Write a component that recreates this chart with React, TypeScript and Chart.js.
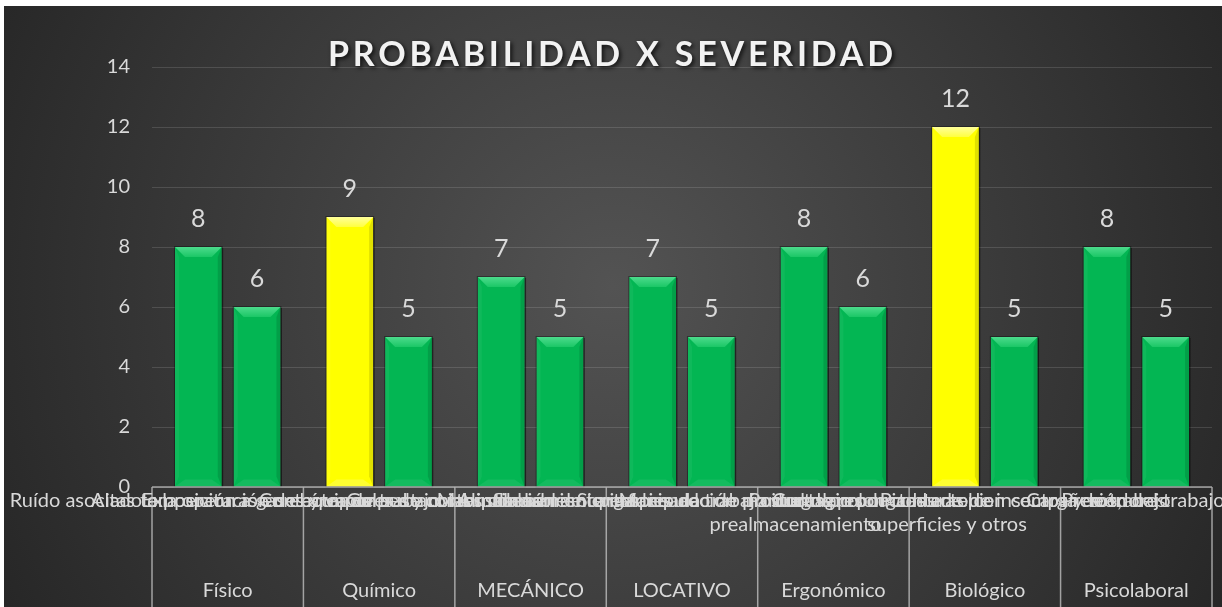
import React, { useEffect, useRef } from "react";
import { Chart, registerables } from "chart.js";

Chart.register(...registerables);

const chartTitle = "PROBABILIDAD X SEVERIDAD";
const groups = ["Físico", "Químico", "MECÁNICO", "LOCATIVO", "Ergonómico", "Biológico", "Psicolaboral"];
const subLabels: (string | string[])[] = [
  "Ruído asociado a la operación de equipos",
  "Altas temperaturas en el área de trabajo",
  "Exposición a gases y vapores de combustibles",
  "Contacto con sustancias inflamables",
  "Golpes y cortes con herramientas",
  "Manipulación de carga pesada",
  "Almacenamiento inadecuado de productos",
  "Superficies de trabajo irregulares",
  ["Manipulación manual de productos en el", "prealmacenamiento"],
  "Posturas prolongadas de pie",
  ["Contagio por contacto con compañeros,", "superficies y otros"],
  "Picaduras de insectos y roedores",
  "Carga de trabajo",
  "Presión del trabajo, el jefe",
];
const values = [8, 6, 9, 5, 7, 5, 7, 5, 8, 6, 12, 5, 8, 5];
const GREEN = "#03B653";
const YELLOW = "#FFFF00";
const barColors = [GREEN, GREEN, YELLOW, GREEN, GREEN, GREEN, GREEN, GREEN, GREEN, GREEN, YELLOW, GREEN, GREEN, GREEN];
const yMin = 0;
const yMax = 14;
const yStep = 2;

const FONT = "Lato, 'Open Sans', sans-serif";
const TEXT = "#d9d9d9";

const bgPlugin = {
  id: "bg",
  beforeDraw(chart: any) {
    const { ctx, width, height } = chart;
    ctx.save();
    const g = ctx.createRadialGradient(width / 2, height / 2 - 20, 0, width / 2, height / 2 - 20, 700);
    g.addColorStop(0, "#535353");
    g.addColorStop(1, "#262626");
    ctx.fillStyle = g;
    ctx.fillRect(0, 0, width, height);
    ctx.restore();
  },
};

const bevelPlugin = {
  id: "bevel",
  afterDatasetsDraw(chart: any) {
    const ctx = chart.ctx;
    chart.data.datasets.forEach((ds: any, di: number) => {
      const meta = chart.getDatasetMeta(di);
      meta.data.forEach((el: any, i: number) => {
        const v = ds.data[i];
        if (v == null) return;
        const { x, y, base, width } = el.getProps(["x", "y", "base", "width"], true);
        const l = x - width / 2;
        const r = x + width / 2;
        const t = y;
        const b = base;
        const bv = 10;
        const yellow = barColors[i] === YELLOW;
        ctx.save();
        // top bevel
        ctx.beginPath();
        ctx.moveTo(l, t);
        ctx.lineTo(r, t);
        ctx.lineTo(r - bv, t + bv);
        ctx.lineTo(l + bv, t + bv);
        ctx.closePath();
        const tg = ctx.createLinearGradient(0, t, 0, t + bv);
        tg.addColorStop(0, yellow ? "#FFFF9A" : "#4CDB8C");
        tg.addColorStop(1, yellow ? "#FFFF40" : "#1BC766");
        ctx.fillStyle = tg;
        ctx.fill();
        // right bevel
        ctx.beginPath();
        ctx.moveTo(r, t);
        ctx.lineTo(r - 4, t + bv);
        ctx.lineTo(r - 4, b - bv);
        ctx.lineTo(r, b);
        ctx.closePath();
        ctx.fillStyle = "rgba(0,0,0,0.12)";
        ctx.fill();
        // left bevel
        ctx.beginPath();
        ctx.moveTo(l, t);
        ctx.lineTo(l + 4, t + bv);
        ctx.lineTo(l + 4, b - bv);
        ctx.lineTo(l, b);
        ctx.closePath();
        ctx.fillStyle = "rgba(255,255,255,0.05)";
        ctx.fill();
        // bottom bevel
        ctx.beginPath();
        ctx.moveTo(l, b);
        ctx.lineTo(r, b);
        ctx.lineTo(r - bv, b - 7);
        ctx.lineTo(l + bv, b - 7);
        ctx.closePath();
        ctx.fillStyle = yellow ? "rgba(255,255,200,0.25)" : "rgba(255,255,255,0.07)";
        ctx.fill();
        // outline
        ctx.strokeStyle = "rgba(0,0,0,0.35)";
        ctx.lineWidth = 1;
        ctx.strokeRect(l - 0.5, t - 0.5, width + 1, b - t + 1);
        ctx.strokeStyle = "rgba(0,0,0,0.45)";
        ctx.beginPath();
        ctx.moveTo(r + 1, t + 1);
        ctx.lineTo(r + 1, b);
        ctx.stroke();
        ctx.restore();

        // data label
        ctx.save();
        ctx.font = `25px ${FONT}`;
        ctx.fillStyle = TEXT;
        ctx.textAlign = "center";
        ctx.textBaseline = "alphabetic";
        ctx.fillText(String(v), x, t - 20);
        ctx.restore();
      });
    });
  },
};

const overlayPlugin = {
  id: "overlay",
  afterDraw(chart: any) {
    const { ctx, chartArea, height } = chart;
    const { left, right, bottom } = chartArea;
    ctx.save();
    // axis lines and group boxes
    ctx.strokeStyle = "rgba(200,200,200,0.75)";
    ctx.lineWidth = 1.5;
    ctx.beginPath();
    ctx.moveTo(left, bottom);
    ctx.lineTo(right, bottom);
    const gw = (right - left) / groups.length;
    for (let k = 0; k <= groups.length; k++) {
      const gx = left + k * gw;
      ctx.moveTo(gx, bottom);
      ctx.lineTo(gx, height);
    }
    ctx.stroke();
    // group labels
    ctx.font = `20px ${FONT}`;
    ctx.fillStyle = TEXT;
    ctx.textAlign = "center";
    ctx.textBaseline = "middle";
    groups.forEach((g, k) => {
      ctx.fillText(g, left + (k + 0.5) * gw, bottom + 104);
    });
    ctx.restore();

    // title
    ctx.save();
    ctx.font = `bold 34px ${FONT}`;
    ctx.fillStyle = "#f2f2f2";
    ctx.textBaseline = "alphabetic";
    ctx.textAlign = "left";
    const w0 = ctx.measureText(chartTitle).width;
    const n = chartTitle.length;
    const target = 565;
    const sp = Math.max(0, (target - w0) / (n - 1));
    (ctx as any).letterSpacing = `${sp}px`;
    const cx = 606.5;
    ctx.shadowColor = "rgba(0,0,0,0.75)";
    ctx.shadowOffsetX = 2;
    ctx.shadowOffsetY = 2;
    ctx.shadowBlur = 4;
    ctx.fillText(chartTitle, cx - target / 2, 60);
    ctx.restore();
  },
};

export default function App() {
  const ref = useRef<HTMLCanvasElement | null>(null);

  useEffect(() => {
    if (!ref.current) return;
    const leftData = values.map((v, i) => (i % 2 === 1 ? v : null));
    const rightData = values.map((v, i) => (i % 2 === 0 ? v : null));
    const chart = new Chart(ref.current, {
      type: "bar",
      data: {
        labels: subLabels,
        datasets: [
          {
            data: leftData,
            backgroundColor: barColors,
            categoryPercentage: 0.449,
            barPercentage: 2.75,
            borderWidth: 0,
          },
          {
            data: rightData,
            backgroundColor: barColors,
            categoryPercentage: 0.449,
            barPercentage: 2.75,
            borderWidth: 0,
          },
        ] as any,
      },
      options: {
        animation: false,
        responsive: false,
        devicePixelRatio: 1,
        layout: { padding: { top: 61, right: 10, left: 0, bottom: 0 } },
        plugins: {
          legend: { display: false },
          tooltip: { enabled: false },
          title: { display: false },
        },
        scales: {
          x: {
            grid: { display: false, drawTicks: false },
            border: { display: false },
            ticks: {
              autoSkip: false,
              maxRotation: 0,
              minRotation: 0,
              padding: 2,
              color: TEXT,
              font: { family: FONT, size: 20 },
            },
            afterFit: (scale: any) => {
              scale.height = 120;
              scale.paddingLeft = 0;
              scale.paddingRight = 0;
            },
          },
          y: {
            min: yMin,
            max: yMax,
            grid: { color: "rgba(255,255,255,0.13)", lineWidth: 1, drawTicks: false },
            border: { display: false },
            ticks: {
              stepSize: yStep,
              padding: 22,
              color: TEXT,
              font: { family: FONT, size: 20 },
            },
            afterFit: (scale: any) => {
              scale.width = 148;
            },
          },
        },
      },
      plugins: [bgPlugin, bevelPlugin, overlayPlugin],
    });
    return () => chart.destroy();
  }, []);

  return (
    <div style={{ position: "absolute", left: 4, top: 6, width: 1218, height: 601 }}>
      <canvas ref={ref} width={1218} height={601} style={{ display: "block", width: 1218, height: 601 }} />
    </div>
  );
}
